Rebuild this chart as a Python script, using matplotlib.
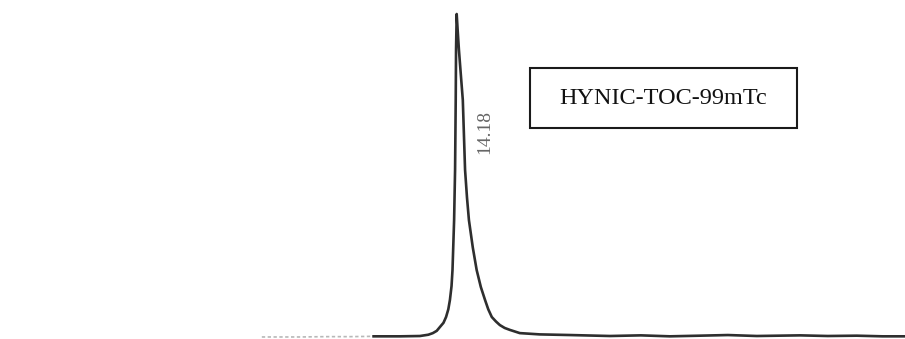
import matplotlib
matplotlib.use("Agg")
import matplotlib.pyplot as plt
from matplotlib.patches import Rectangle
import numpy as np

# retention time (min) and detector signal (% of peak height)
time_min = [8.13, 8.8, 9.31, 10.1, 10.87, 11.6, 12.42, 13.04, 13.30, 13.44, 13.56, 13.66, 13.77,
            13.85, 13.92, 13.97, 14.02, 14.05, 14.10, 14.13, 14.15, 14.16, 14.18,
            14.21, 14.25, 14.31, 14.37, 14.44, 14.50, 14.56, 14.68, 14.80, 14.93,
            15.06, 15.16, 15.27, 15.40, 15.52, 15.67, 15.83,
            16.14, 16.45, 16.76, 17.70, 18.94, 19.9, 20.8, 21.73, 22.6, 23.5,
            24.84, 25.7, 26.6, 27.4, 28.10]
signal = [-0.3, -0.3, -0.3, -0.2, -0.2, -0.1, -0.1, 0.0, 0.4, 0.9, 1.6, 2.8, 4.1,
          5.9, 8.3, 11.2, 15.5, 20.5, 36.0, 51.6, 73.3, 88.8, 100.0,
          95.0, 88.8, 81.0, 73.3, 51.6, 43.0, 36.0, 27.5, 20.5, 15.2,
          11.2, 8.3, 5.9, 4.5, 3.4, 2.5, 1.9,
          0.9, 0.7, 0.5, 0.3, 0.0, 0.2, -0.1, 0.1, 0.3, 0.0,
          0.2, 0.0, 0.1, -0.1, -0.1]
peak_rt = 14.18
sample_name = "HYNIC-TOC-99mTc"

t = np.array(time_min)
s = np.array(signal)

fig = plt.figure(figsize=(9.05, 3.39), dpi=100)
ax = fig.add_axes([0, 0, 1, 1])
ax.set_xlim(0, 28.10)
ax.set_ylim(-0.93, 104.35)
ax.axis("off")

# faint lead-in of the trace, then the main trace
lead = t <= 11.6
main = t >= 11.6
ax.plot(t[lead], s[lead], color="#b8b8b8", lw=1.2, ls=(0, (2, 1.5)))
ax.plot(t[main], s[main], color="#2e2e2e", lw=1.9,
        solid_joinstyle="round")

# retention time label beside the peak
ax.text(peak_rt + 0.88, 63.5, f"{peak_rt:.2f}", rotation=90, ha="center", va="center",
        family="Liberation Serif", fontsize=14, color="#666666")

# boxed sample name
ax.add_patch(Rectangle((0.5856, 0.6224), 0.295, 0.177, transform=ax.transAxes,
                       fill=False, lw=1.5, edgecolor="#1a1a1a"))
ax.text(0.733, 0.708, sample_name, transform=ax.transAxes, ha="center", va="center",
        family="Liberation Serif", fontsize=17.5, color="#111111")

fig.savefig("out.png", dpi=100)
